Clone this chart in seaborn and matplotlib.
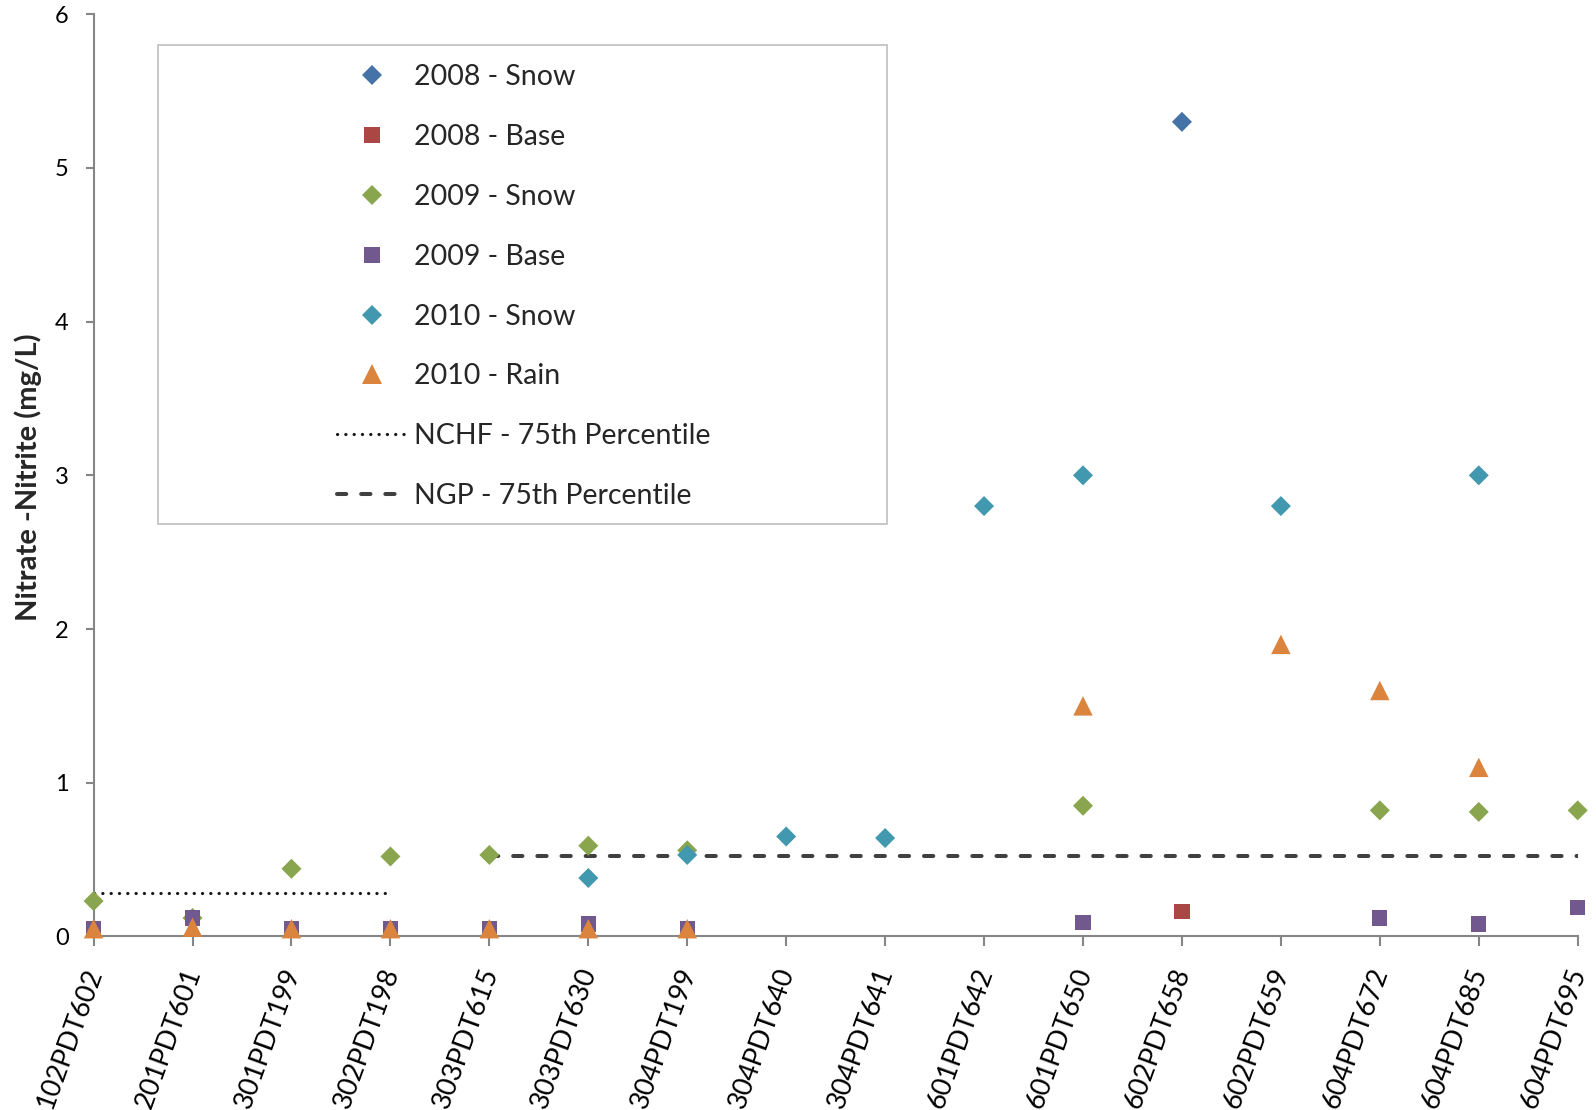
import numpy as np
import pandas as pd
import matplotlib
matplotlib.use("Agg")
import matplotlib.pyplot as plt
from matplotlib.lines import Line2D
from matplotlib.patches import Rectangle
from matplotlib.transforms import ScaledTranslation
import seaborn as sns

nan = np.nan
sites = ["102PDT602", "201PDT601", "301PDT199", "302PDT198", "303PDT615",
         "303PDT630", "304PDT199", "304PDT640", "304PDT641", "601PDT642",
         "601PDT650", "602PDT658", "602PDT659", "604PDT672", "604PDT685",
         "604PDT695"]

snow_2008 = [nan, nan, nan, nan, nan, nan, nan, nan, nan, nan, nan, 5.30, nan, nan, nan, nan]
base_2008 = [nan, nan, nan, nan, nan, nan, nan, nan, nan, nan, nan, 0.16, nan, nan, nan, nan]
snow_2009 = [0.23, 0.12, 0.44, 0.52, 0.53, 0.59, 0.56, nan, nan, nan, 0.85, nan, nan, 0.82, 0.81, 0.82]
base_2009 = [0.05, 0.12, 0.05, 0.05, 0.05, 0.08, 0.05, nan, nan, nan, 0.09, nan, nan, 0.12, 0.08, 0.19]
snow_2010 = [nan, nan, nan, nan, nan, 0.38, 0.53, 0.65, 0.64, 2.80, 3.00, nan, 2.80, nan, 3.00, nan]
rain_2010 = [0.05, 0.06, 0.05, 0.05, 0.05, 0.05, 0.05, nan, nan, nan, 1.50, nan, 1.90, 1.60, 1.10, nan]

series_names = ["2008 - Snow", "2008 - Base", "2009 - Snow", "2009 - Base", "2010 - Snow", "2010 - Rain"]
series_values = [snow_2008, base_2008, snow_2009, base_2009, snow_2010, rain_2010]

nchf_label = "NCHF - 75th Percentile"
nchf_sites = ["102PDT602", "302PDT198"]
nchf_value = [0.28, 0.28]
ngp_label = "NGP - 75th Percentile"
ngp_sites = ["303PDT615", "604PDT695"]
ngp_value = [0.52, 0.52]

y_ticks = [0, 1, 2, 3, 4, 5, 6]
y_label = "Nitrate -Nitrite (mg/L)"

# styles
colors = {"2008 - Snow": "#4572A7", "2008 - Base": "#AA4643", "2009 - Snow": "#89A54E",
          "2009 - Base": "#71588F", "2010 - Snow": "#4198AF", "2010 - Rain": "#DB843D"}
markers = {"2008 - Snow": "D", "2008 - Base": "s", "2009 - Snow": "D",
           "2009 - Base": "s", "2010 - Snow": "D", "2010 - Rain": "^"}
msize = {"D": 10.2, "s": 11.0, "^": 14.0}

rows = []
for name, vals in zip(series_names, series_values):
    for i, v in enumerate(vals):
        if not np.isnan(v):
            rows.append({"pos": i, "value": v, "series": name})
df = pd.DataFrame(rows)

sns.set_style("ticks")
plt.rcParams["font.family"] = ["Lato", "DejaVu Sans"]

fig = plt.figure(figsize=(15.96, 11.10), dpi=100)
ax = fig.add_axes([93.6 / 1596, 1 - 936.4 / 1110, (1577.7 - 93.6) / 1596, (936.4 - 14.25) / 1110])

line_color_dot = "#1a1a1a"
line_color_dash = "#404040"
nchf_df = pd.DataFrame({"pos": [sites.index(s) for s in nchf_sites], "value": nchf_value})
ngp_df = pd.DataFrame({"pos": [sites.index(s) for s in ngp_sites], "value": ngp_value})
sns.lineplot(data=nchf_df, x="pos", y="value", ax=ax, color=line_color_dot, lw=2.3,
             linestyle=(0, (0.05, 2.55)), dash_capstyle="round", zorder=2)
sns.lineplot(data=ngp_df, x="pos", y="value", ax=ax, color=line_color_dash, lw=2.9,
             linestyle=(0, (2.3, 3.7)), dash_capstyle="round", zorder=2)

sns.scatterplot(data=df, x="pos", y="value", hue="series", style="series", size="series",
                palette=colors, markers=markers,
                sizes={k: msize[markers[k]] ** 2 for k in series_names},
                linewidth=0, legend=False, ax=ax, clip_on=False, zorder=3)

ax.set_xlim(0, len(sites) - 1)
ax.set_ylim(0, 6)
ax.set_xticks(range(len(sites)))
ax.set_xticklabels(sites, rotation=70, ha="right", va="baseline", rotation_mode="anchor",
                   fontsize=19.5)
ax.set_yticks(y_ticks)
ax.set_yticklabels([str(t) for t in y_ticks], fontsize=17)
ax.set_xlabel("")
ax.set_ylabel("")
for side in ["top", "right"]:
    ax.spines[side].set_visible(False)
for side in ["left", "bottom"]:
    ax.spines[side].set_color("#868686")
    ax.spines[side].set_linewidth(1.5)
    ax.spines[side].set_zorder(2.5)
ax.tick_params(axis="y", length=6, width=1.5, color="#868686", pad=12, labelcolor="black")
ax.tick_params(axis="x", length=7, width=1.5, color="#868686", pad=18.3, labelcolor="black")
shift = ScaledTranslation(8.5 / 100, 0, fig.dpi_scale_trans)
for lab in ax.get_xticklabels():
    lab.set_transform(lab.get_transform() + shift)

fig.text(28.5 / 1596, 1 - 477 / 1110, y_label, rotation=90, ha="center", va="center",
         fontsize=21, fontweight="bold")

# legend
handles = []
for name in series_names:
    m = markers[name]
    handles.append(Line2D([], [], linestyle="none", marker=m, markersize=msize[m],
                          markerfacecolor=colors[name], markeredgewidth=0))
handles.append(Line2D([], [], color=line_color_dot, lw=2.3, linestyle=(0, (0.05, 2.55)),
                      dash_capstyle="round"))
handles.append(Line2D([], [], color=line_color_dash, lw=2.9, linestyle=(0, (2.3, 3.7)),
                      dash_capstyle="round"))
labels = series_names + [nchf_label, ngp_label]
leg = fig.legend(handles, labels, loc="upper left", bbox_to_anchor=(337 / 1596, 1 - 64 / 1110),
                 bbox_transform=fig.transFigure, frameon=False, fontsize=20.5,
                 handlelength=2.45, handletextpad=0.27, labelspacing=1.19, borderpad=0,
                 borderaxespad=0)
fig.add_artist(Rectangle((158 / 1596, 1 - 524 / 1110), (887 - 158) / 1596, (524 - 45) / 1110,
                         transform=fig.transFigure, fill=False, edgecolor="#BFBFBF", lw=1.2))

fig.savefig("out.png", dpi=100, facecolor="white")
